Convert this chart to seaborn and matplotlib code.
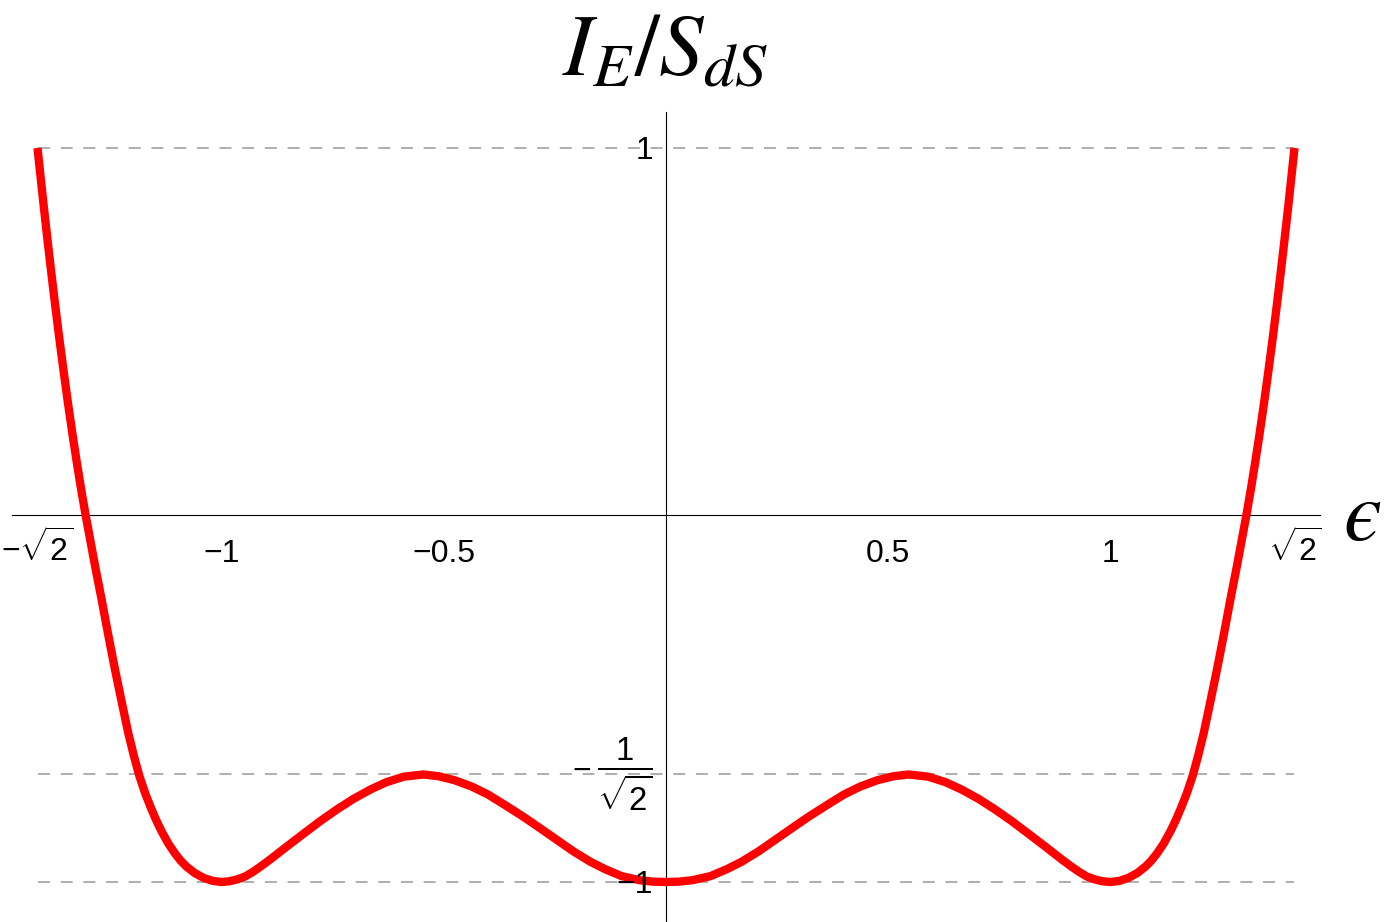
import numpy as np
import pandas as pd
import matplotlib
matplotlib.use("Agg")
import matplotlib.pyplot as plt
import seaborn as sns

# ---- data ----
eps = [-1.4142, -1.407, -1.400, -1.391, -1.382, -1.374, -1.365, -1.356, -1.346, -1.336,
       -1.326, -1.316, -1.306, -1.285, -1.270, -1.255, -1.240, -1.225, -1.210, -1.197,
       -1.185, -1.172, -1.160, -1.147, -1.135, -1.120, -1.105, -1.092, -1.079, -1.060,
       -1.040, -1.020, -1.000, -0.982, -0.965, -0.947, -0.929, -0.910, -0.890, -0.872,
       -0.854, -0.815, -0.779, -0.740, -0.704, -0.665, -0.629, -0.590, -0.546, -0.511,
       -0.475, -0.437, -0.400, -0.360, -0.320, -0.285, -0.247, -0.209, -0.170, -0.137,
       -0.100, -0.060, -0.030, 0.000,
       0.030, 0.060, 0.100, 0.137, 0.170, 0.209, 0.247, 0.285, 0.320, 0.360,
       0.400, 0.437, 0.475, 0.511, 0.546, 0.590, 0.629, 0.665, 0.704, 0.740,
       0.779, 0.815, 0.854, 0.872, 0.890, 0.910, 0.929, 0.947, 0.965, 0.982,
       1.000, 1.020, 1.040, 1.060, 1.079, 1.092, 1.105, 1.120, 1.135, 1.147,
       1.160, 1.172, 1.185, 1.197, 1.210, 1.225, 1.240, 1.255, 1.270, 1.285,
       1.306, 1.316, 1.326, 1.336, 1.346, 1.356, 1.365, 1.374, 1.382, 1.391,
       1.400, 1.407, 1.4142]
ie_over_sds = [1.000, 0.918, 0.839, 0.742, 0.648, 0.567, 0.480, 0.397, 0.308, 0.224,
               0.145, 0.070, 0.000, -0.137, -0.230, -0.327, -0.420, -0.508, -0.594, -0.658,
               -0.711, -0.758, -0.795, -0.832, -0.862, -0.895, -0.922, -0.942, -0.958, -0.976,
               -0.989, -0.997, -1.000, -0.998, -0.993, -0.985, -0.972, -0.956, -0.938, -0.921,
               -0.904, -0.868, -0.835, -0.802, -0.774, -0.748, -0.728, -0.713, -0.707, -0.712,
               -0.723, -0.740, -0.762, -0.792, -0.823, -0.852, -0.884, -0.916, -0.945, -0.965,
               -0.984, -0.995, -0.999, -1.000,
               -0.999, -0.995, -0.984, -0.965, -0.945, -0.916, -0.884, -0.852, -0.823, -0.792,
               -0.762, -0.740, -0.723, -0.712, -0.707, -0.713, -0.728, -0.748, -0.774, -0.802,
               -0.835, -0.868, -0.904, -0.921, -0.938, -0.956, -0.972, -0.985, -0.993, -0.998,
               -1.000, -0.997, -0.989, -0.976, -0.958, -0.942, -0.922, -0.895, -0.862, -0.832,
               -0.795, -0.758, -0.711, -0.658, -0.594, -0.508, -0.420, -0.327, -0.230, -0.137,
               0.000, 0.070, 0.145, 0.224, 0.308, 0.397, 0.480, 0.567, 0.648, 0.742,
               0.839, 0.918, 1.000]

x_tick_values = [-np.sqrt(2), -1, -0.5, 0.5, 1, np.sqrt(2)]
x_tick_labels = [r"$-\sqrt{2}$", "\u22121", "\u22120.5", "0.5", "1", r"$\sqrt{2}$"]
y_tick_values = [1, -1 / np.sqrt(2), -1]
y_tick_labels = ["1", r"$\frac{1}{\sqrt{2}}$", "\u22121"]
ref_levels = [1, -1 / np.sqrt(2), -1]
title_text = r"$\mathit{I_E/S_{dS}}$"
xlabel_text = "\u03f5"

# ---- style ----
sns.set_style("white")
plt.rcParams["font.family"] = ["Liberation Sans", "DejaVu Sans"]
plt.rcParams["mathtext.fontset"] = "custom"
plt.rcParams["mathtext.rm"] = "Liberation Sans"
plt.rcParams["mathtext.it"] = "Liberation Sans:italic"
plt.rcParams["mathtext.bf"] = "Liberation Sans:bold"
plt.rcParams["mathtext.sf"] = "Liberation Sans"

LABEL_PT = 23

W, H = 1389, 922
fig = plt.figure(figsize=(W / 100, H / 100), dpi=100)
fig.patch.set_facecolor("white")
ax = fig.add_axes([12 / W, 0, (1320 - 12) / W, (922 - 112) / H])
ax.set_facecolor("white")

df = pd.DataFrame({"eps": eps, "val": ie_over_sds})
sns.lineplot(data=df, x="eps", y="val", ax=ax, color="#ff0000", linewidth=6.0,
             estimator=None, sort=False, solid_capstyle="butt",
             solid_joinstyle="round", zorder=2)

for lv in ref_levels:
    ax.hlines(lv, x_tick_values[0], x_tick_values[-1], colors="#999999",
              linewidth=1.1, linestyles=(0, (7.85, 7.0)), zorder=1)

ax.set_xlim(-1.4716, 1.4716)
ax.set_ylim(-1.109, 1.098)
ax.set_xlabel("")
ax.set_ylabel("")

for side in ["top", "right"]:
    ax.spines[side].set_visible(False)
for side in ["left", "bottom"]:
    ax.spines[side].set_position(("data", 0))
    ax.spines[side].set_color("black")
    ax.spines[side].set_linewidth(0.8)
    ax.spines[side].set_zorder(1.5)

ax.tick_params(axis="x", direction="in", length=3, width=0.8, pad=33.5,
               labelsize=LABEL_PT, colors="black")
ax.tick_params(axis="y", direction="in", length=3, width=0.8, pad=9.4,
               labelsize=LABEL_PT, colors="black")
ax.set_xticks(x_tick_values, x_tick_labels)
ax.set_yticks(y_tick_values, y_tick_labels)
for lab in ax.get_xticklabels():
    lab.set_va("baseline")
ylabs = ax.get_yticklabels()
ylabs[1].set_va("center")
ylabs[1].set_fontsize(LABEL_PT / 0.68)
ax.set_axisbelow(False)

# minus sign in front of the fraction tick label
ax.annotate("\u2212", xy=(0, y_tick_values[1]), xytext=(-60.5, 4.5),
            textcoords="offset points", ha="center", va="center_baseline",
            fontsize=LABEL_PT, color="black", annotation_clip=False, zorder=3)

fig.text(665 / W, 1 - 75 / H, title_text, ha="center", va="baseline",
         fontsize=64, math_fontfamily="stix", color="black")
fig.text(1363 / W, 1 - 540 / H, xlabel_text, ha="center", va="baseline",
         fontsize=62, family=["STIXGeneral", "DejaVu Serif"], style="italic",
         color="black")

fig.savefig("out.png", dpi=100, facecolor="white")
